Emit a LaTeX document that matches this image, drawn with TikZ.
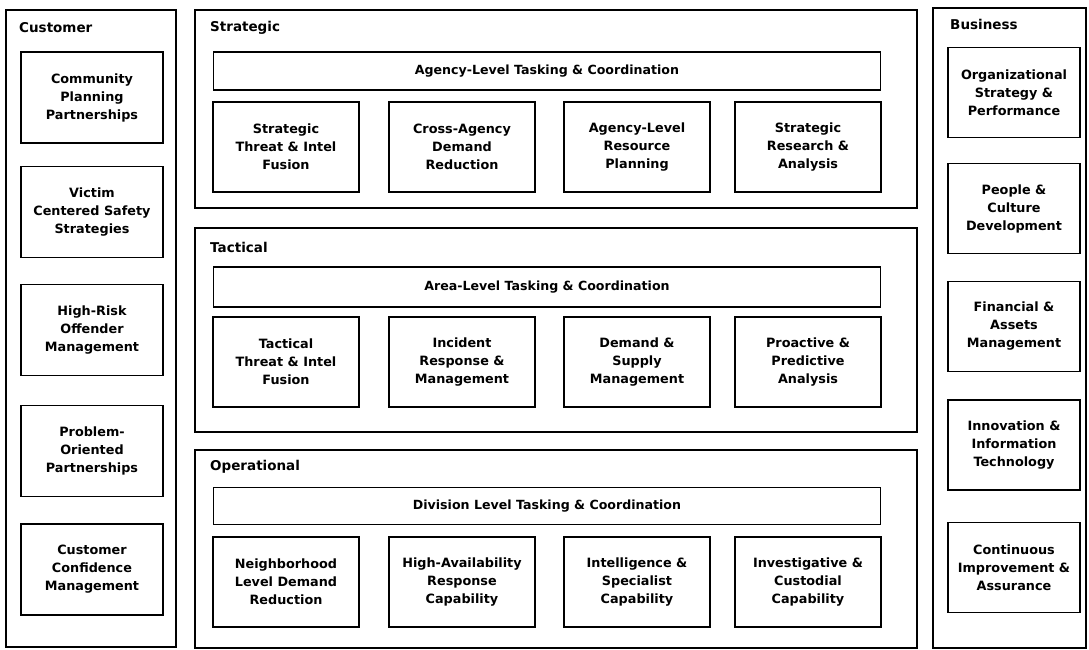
\documentclass[tikz,border=0pt]{standalone}
\usepackage{fontspec}
\setmainfont{DejaVu Sans}
\begin{document}
\begin{tikzpicture}[x=1pt,y=-1pt,
  frame/.style={draw=black, line width=1.4pt, rectangle, inner sep=0pt},
  cell/.style={frame, align=center, font=\bfseries\fontsize{12.8}{18}\selectfont},
  cbox/.style={cell, minimum width=142pt, minimum height=91pt},
  sbox/.style={cell, minimum width=146pt, minimum height=90pt},
  bbox/.style={cell, minimum width=132pt, minimum height=90pt},
  bar/.style={frame, minimum width=667pt, font=\bfseries\fontsize{12.6}{15}\selectfont},
  title/.style={anchor=west, inner sep=0pt, font=\bfseries\fontsize{13.5}{16}\selectfont}]
\useasboundingbox[fill=white] (0,0) rectangle (1089,650);

% ---------- Customer column ----------
\node[frame, minimum width=170pt, minimum height=637pt] (customer) at (91,328.5) {};
\node[title] (customerlbl) at (19,28) {Customer};
\node[cbox] (c1) at (92,97.5) {Community\\Planning\\Partnerships};
\node[cbox] (c2) at (92,212) {Victim\\Centered Safety\\Strategies};
\node[cbox] (c3) at (92,330) {High-Risk\\Offender\\Management};
\node[cbox] (c4) at (92,451) {Problem-\\Oriented\\Partnerships};
\node[cbox] (c5) at (92,569.5) {Customer\\Confidence\\Management};

% ---------- Strategic ----------
\node[frame, minimum width=722pt, minimum height=198pt] (strategic) at (556,109) {};
\node[title] (strategiclbl) at (210,28) {Strategic};
\node[bar, minimum height=38pt] (sbar) at (547,71) {Agency-Level Tasking \& Coordination};
\node[sbox] (s1) at (286,147) {Strategic\\Threat \& Intel\\Fusion};
\node[sbox] (s2) at (462,147) {Cross-Agency\\Demand\\Reduction};
\node[sbox] (s3) at (637,147) {Agency-Level\\Resource\\Planning};
\node[sbox] (s4) at (808,147) {Strategic\\Research \&\\Analysis};

% ---------- Tactical ----------
\node[frame, minimum width=722pt, minimum height=204pt] (tactical) at (556,330) {};
\node[title] (tacticallbl) at (210,247) {Tactical};
\node[bar, minimum height=40pt] (tbar) at (547,287) {Area-Level Tasking \& Coordination};
\node[sbox] (t1) at (286,362) {Tactical\\Threat \& Intel\\Fusion};
\node[sbox] (t2) at (462,362) {Incident\\Response \&\\Management};
\node[sbox] (t3) at (637,362) {Demand \&\\Supply\\Management};
\node[sbox] (t4) at (808,362) {Proactive \&\\Predictive\\Analysis};

% ---------- Operational ----------
\node[frame, minimum width=722pt, minimum height=198pt] (operational) at (556,549) {};
\node[title] (operationallbl) at (210,467) {Operational};
\node[bar, minimum height=37pt] (obar) at (547,506) {Division Level Tasking \& Coordination};
\node[sbox] (o1) at (286,582) {Neighborhood\\Level Demand\\Reduction};
\node[sbox] (o2) at (462,582) {High-Availability\\Response\\Capability};
\node[sbox] (o3) at (637,582) {Intelligence \&\\Specialist\\Capability};
\node[sbox] (o4) at (808,582) {Investigative \&\\Custodial\\Capability};

% ---------- Business column ----------
\node[frame, minimum width=153pt, minimum height=640pt] (business) at (1009.5,328) {};
\node[title] (businesslbl) at (950,24) {Business};
\node[bbox] (b1) at (1014,92.5) {Organizational\\Strategy \&\\Performance};
\node[bbox] (b2) at (1014,208.5) {People \&\\Culture\\Development};
\node[bbox] (b3) at (1014,326.5) {Financial \&\\Assets\\Management};
\node[bbox] (b4) at (1014,445) {Innovation \&\\Information\\Technology};
\node[bbox] (b5) at (1014,567.5) {Continuous\\Improvement \&\\Assurance};
\end{tikzpicture}
\end{document}
